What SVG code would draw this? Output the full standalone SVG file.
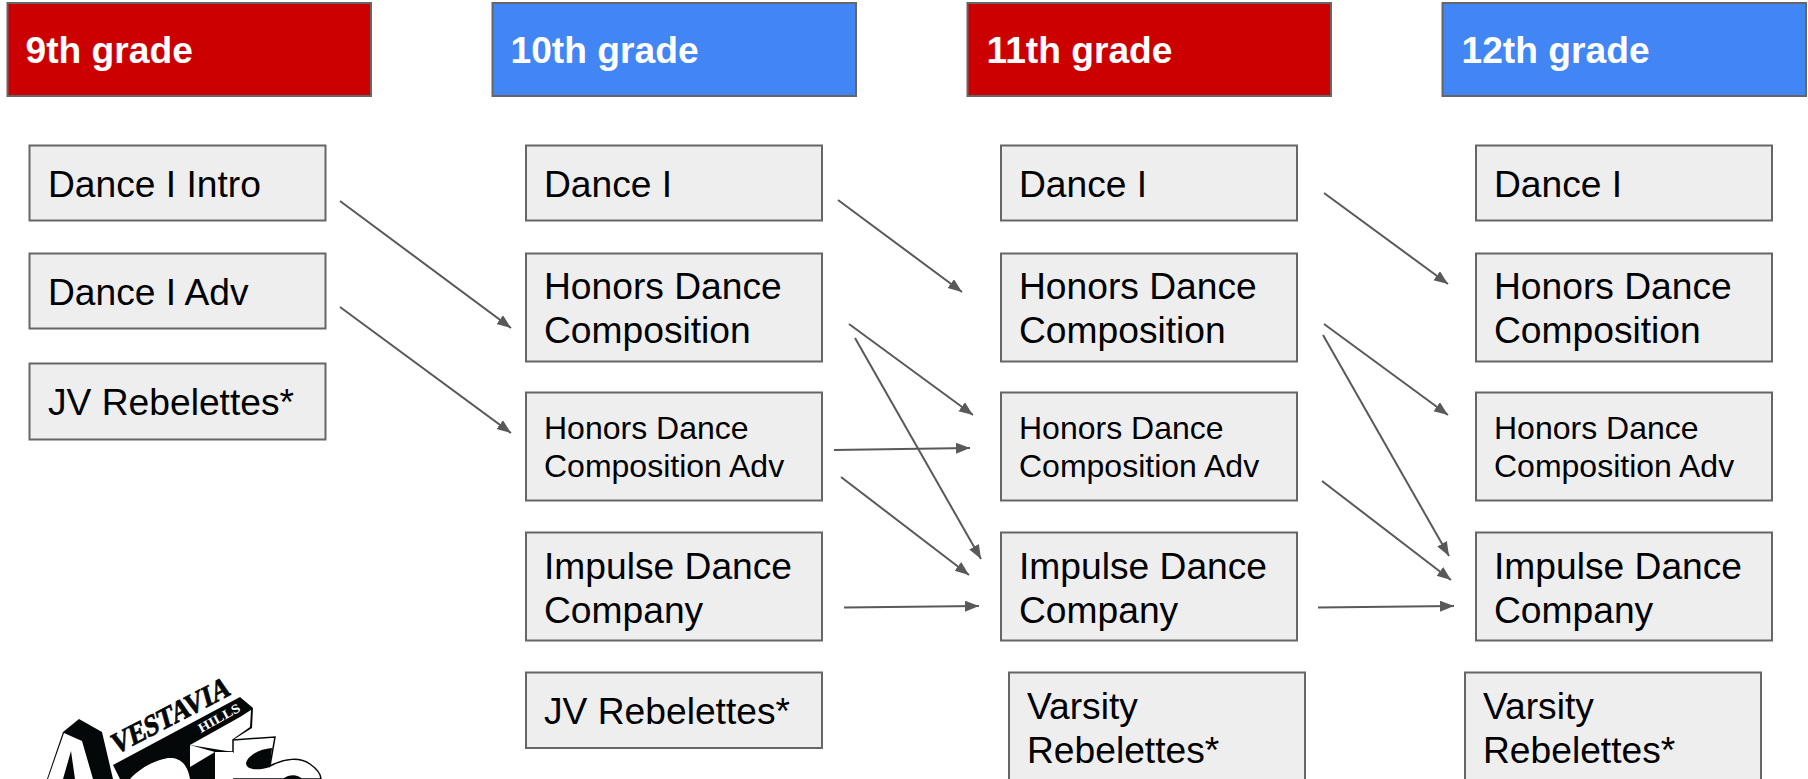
<svg xmlns="http://www.w3.org/2000/svg" width="1808" height="779" viewBox="0 0 1808 779">
<defs>
<marker id="arr" markerUnits="userSpaceOnUse" markerWidth="16" markerHeight="12" refX="14" refY="5.5" orient="auto"><path d="M0 0L14 5.5L0 11Z" fill="#595959"/></marker>
</defs>
<style>
text{font-family:"Liberation Sans",Arial,sans-serif}
.h{stroke:#666;stroke-width:2}
.red{fill:#cc0000}.blue{fill:#4285f4}
.n{fill:#eee;stroke:#666;stroke-width:2}
.ht{font-size:37.2px;font-weight:700;fill:#fff}
.t{font-size:37.2px;fill:#000}
.s{font-size:32px;fill:#000}
#connectors line{stroke:#595959;stroke-width:2;marker-end:url(#arr)}
</style>
<rect width="1808" height="779" fill="#fff"/>
<g id="h9"><rect class="h red" x="7.5" y="3" width="363.5" height="93"/><text class="ht" x="25.5" y="63">9th grade</text></g>
<g id="h10"><rect class="h blue" x="492.5" y="3" width="363.5" height="93"/><text class="ht" x="510.5" y="63">10th grade</text></g>
<g id="h11"><rect class="h red" x="967.5" y="3" width="363.5" height="93"/><text class="ht" x="986.5" y="63">11th grade</text></g>
<g id="h12"><rect class="h blue" x="1442.5" y="3" width="363.5" height="93"/><text class="ht" x="1461.5" y="63">12th grade</text></g>

<g id="c1a"><rect class="n" x="29.5" y="145.5" width="296" height="75"/><text class="t" x="48" y="197">Dance I Intro</text></g>
<g id="c1b"><rect class="n" x="29.5" y="253.5" width="296" height="75"/><text class="t" x="48" y="305">Dance I Adv</text></g>
<g id="c1c"><rect class="n" x="29.5" y="363.5" width="296" height="76"/><text class="t" x="48" y="415">JV Rebelettes*</text></g>

<g id="c2a"><rect class="n" x="526" y="145.5" width="296" height="75"/><text class="t" x="544" y="197">Dance I</text></g>
<g id="c2b"><rect class="n" x="526" y="253.5" width="296" height="108"/><text class="t" x="544" y="299">Honors Dance</text><text class="t" x="544" y="343">Composition</text></g>
<g id="c2c"><rect class="n" x="526" y="392.5" width="296" height="108"/><text class="s" x="544" y="439">Honors Dance</text><text class="s" x="544" y="477">Composition Adv</text></g>
<g id="c2d"><rect class="n" x="526" y="532.5" width="296" height="108"/><text class="t" x="544" y="579">Impulse Dance</text><text class="t" x="544" y="623">Company</text></g>
<g id="c2e"><rect class="n" x="526" y="672.5" width="296" height="75.5"/><text class="t" x="544" y="724">JV Rebelettes*</text></g>

<g id="c3a"><rect class="n" x="1001" y="145.5" width="296" height="75"/><text class="t" x="1019" y="197">Dance I</text></g>
<g id="c3b"><rect class="n" x="1001" y="253.5" width="296" height="108"/><text class="t" x="1019" y="299">Honors Dance</text><text class="t" x="1019" y="343">Composition</text></g>
<g id="c3c"><rect class="n" x="1001" y="392.5" width="296" height="108"/><text class="s" x="1019" y="439">Honors Dance</text><text class="s" x="1019" y="477">Composition Adv</text></g>
<g id="c3d"><rect class="n" x="1001" y="532.5" width="296" height="108"/><text class="t" x="1019" y="579">Impulse Dance</text><text class="t" x="1019" y="623">Company</text></g>
<g id="c3e"><rect class="n" x="1009" y="672.5" width="296" height="110"/><text class="t" x="1027" y="719">Varsity</text><text class="t" x="1027" y="763">Rebelettes*</text></g>

<g id="c4a"><rect class="n" x="1476" y="145.5" width="296" height="75"/><text class="t" x="1494" y="197">Dance I</text></g>
<g id="c4b"><rect class="n" x="1476" y="253.5" width="296" height="108"/><text class="t" x="1494" y="299">Honors Dance</text><text class="t" x="1494" y="343">Composition</text></g>
<g id="c4c"><rect class="n" x="1476" y="392.5" width="296" height="108"/><text class="s" x="1494" y="439">Honors Dance</text><text class="s" x="1494" y="477">Composition Adv</text></g>
<g id="c4d"><rect class="n" x="1476" y="532.5" width="296" height="108"/><text class="t" x="1494" y="579">Impulse Dance</text><text class="t" x="1494" y="623">Company</text></g>
<g id="c4e"><rect class="n" x="1465" y="672.5" width="296" height="110"/><text class="t" x="1483" y="719">Varsity</text><text class="t" x="1483" y="763">Rebelettes*</text></g>

<g id="connectors">
<line x1="340" y1="201" x2="511" y2="328"/>
<line x1="340" y1="307" x2="511" y2="433"/>
<line x1="838" y1="200" x2="962" y2="292"/>
<line x1="849" y1="324" x2="973" y2="415"/>
<line x1="855" y1="338" x2="981" y2="559"/>
<line x1="834" y1="450" x2="970" y2="448"/>
<line x1="841" y1="477" x2="969" y2="575"/>
<line x1="844" y1="607.5" x2="979" y2="606"/>
<line x1="1324" y1="193" x2="1448" y2="284"/>
<line x1="1324" y1="324" x2="1448" y2="415"/>
<line x1="1323" y1="335" x2="1449" y2="556"/>
<line x1="1322" y1="481" x2="1451" y2="580"/>
<line x1="1318" y1="607.5" x2="1454" y2="606"/>
</g>
<g id="logo">
<path d="M63 732L79 719L102 732L113 779H47Z" fill="#050808"/>
<path d="M64 733L82 741L93 779H75L71 751L63 779H48Z" fill="#fff"/>
<path d="M113 765L240 697L253 708L252 728L233 740V779H120Z" fill="#050808"/>
<path d="M190 745L240 717L251 710L250 727L233 739V752L215 752V779H240V752H233Z" fill="#fff"/>
<path d="M190 745L215 752L190 767Z" fill="#fff"/>
<path d="M130 779C140 768 155 760 168 758C178 757 187 762 190 779Z" fill="#fff"/>
<path d="M233 740L275 737L270 766C285 758 300 757 310 764C317 769 321 774 321 779H215V752L233 752Z" fill="#fff" stroke="#050808" stroke-width="1.5"/>
<path d="M215 752H233V779H215Z" fill="#fff"/>
<path d="M272 748C260 749 248 755 246 763C246 770 258 771 270 767Z" fill="#050808"/>
<path d="M283 779C287 775 297 773 302 779Z" fill="#050808"/>
<text transform="translate(115 755) rotate(-27.5) skewX(-12)" font-size="29" font-weight="700" textLength="131" lengthAdjust="spacingAndGlyphs" stroke="#050808" stroke-width="0.8" style="font-family:'Liberation Serif',serif" fill="#050808">VESTAVIA</text>
<path d="M192 728L240 703L247 709L199 734Z" fill="#050808"/>
<text transform="translate(201 733) rotate(-29)" font-size="13" font-weight="700" textLength="46" lengthAdjust="spacingAndGlyphs" style="font-family:'Liberation Serif',serif" fill="#fff">HILLS</text>
</g>
</svg>
